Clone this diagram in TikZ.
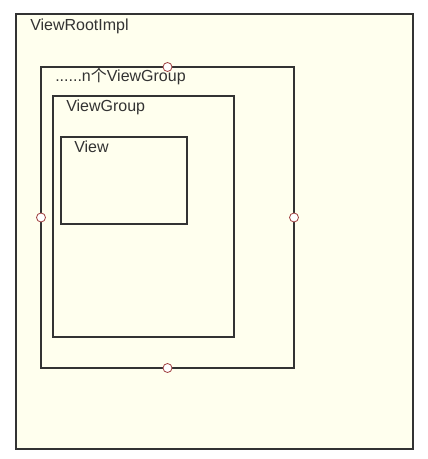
\documentclass[tikz,border=0pt]{standalone}
\usepackage{fontspec}
\setmainfont{Liberation Sans}
\newfontfamily\cjk{Noto Sans CJK SC}
\usepackage{tikz}
\usetikzlibrary{positioning}
\definecolor{boxfill}{HTML}{FFFFEE}
\definecolor{boxline}{HTML}{333333}
\definecolor{portline}{HTML}{A04040}
\tikzset{box/.style={draw=boxline,fill=boxfill,line width=1.9pt,inner sep=0pt,outer sep=0pt}}
\tikzset{port/.style={circle,draw=portline,fill=white,line width=0.6pt,inner sep=0pt,minimum size=6.75pt}}
\tikzset{lbl/.style={anchor=base west,inner sep=0pt,font=\fontsize{12pt}{14pt}\selectfont,text=boxline}}

\begin{document}
\begin{tikzpicture}[x=0.75pt,y=-0.75pt]
                \useasboundingbox (0,0) rectangle (427,459);
                \node[box,minimum width=297.75pt,minimum height=326.25pt] (root) at (214.5,231.5) {};
                \node[box,minimum width=189.75pt,minimum height=225.75pt] (groupn) at (167.5,217.5) {};
                \node[box,minimum width=135.75pt,minimum height=180.75pt] (group) at (143.5,216.5) {};
                \node[box,minimum width=94.5pt,minimum height=65.25pt] (view) at (124,180.5) {};
                \node[lbl] (rootlbl) at (30,31) {ViewRootImpl};
                \node[lbl] (groupnlbl) at (55,82) {......n{\cjk 个}ViewGroup};
                \node[lbl] (grouplbl) at (66,112) {ViewGroup};
                \node[lbl] (viewlbl) at (74,153) {View};
                % ports on the n ViewGroup box
                \node[port] (pn) at (groupn.north) {};
                \node[port] (pw) at (groupn.west) {};
                \node[port] (pe) at (groupn.east) {};
                \node[port] (ps) at (groupn.south) {};
            \end{tikzpicture}
\end{document}
